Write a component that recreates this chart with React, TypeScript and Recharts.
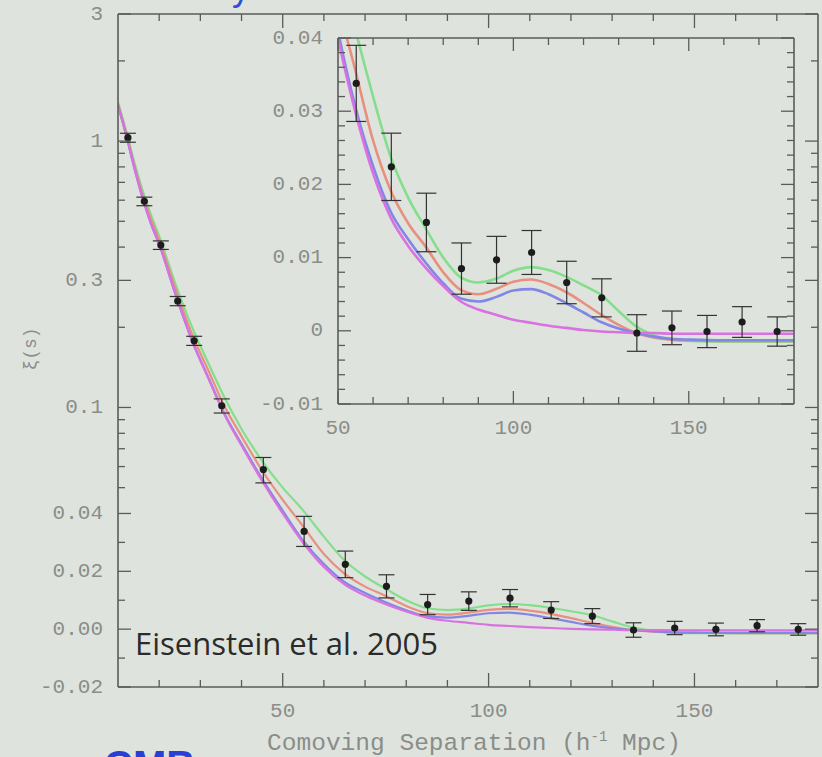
import React from 'react';
import { ComposedChart, Line, Scatter, XAxis, YAxis, ErrorBar } from 'recharts';

const BG = '#dfe3dd';
const AXIS = '#5a5c5a';
const TICK_TEXT = '#8a8d89';
const MONO = '"Liberation Mono", "DejaVu Sans Mono", monospace';

// model curves xi(s)
const rGrid = [10, 12, 14, 16, 18, 20, 24, 28, 32, 36, 40, 45, 50, 55, 60, 65, 70, 75, 80, 85, 90, 95, 100, 105, 110, 115, 120, 125, 130, 135, 140, 145, 150, 160, 170, 180];
const xiGreen = [1.40, 1.09, 0.83, 0.65, 0.53, 0.44, 0.29, 0.200, 0.146, 0.108, 0.083, 0.063, 0.050, 0.041, 0.032, 0.0238, 0.0182, 0.0140, 0.0100, 0.0073, 0.0066, 0.0071, 0.0082, 0.0087, 0.0083, 0.0074, 0.0062, 0.0049, 0.0027, 0.0006, -0.0006, -0.0012, -0.0014, -0.0015, -0.0015, -0.0015];
const xiRed = [1.38, 1.07, 0.81, 0.63, 0.51, 0.425, 0.278, 0.188, 0.137, 0.100, 0.078, 0.058, 0.045, 0.0355, 0.026, 0.0192, 0.0147, 0.0115, 0.0080, 0.0056, 0.0050, 0.0057, 0.0067, 0.0070, 0.0064, 0.0053, 0.0038, 0.0022, 0.0008, -0.0003, -0.0009, -0.0012, -0.0013, -0.0014, -0.0014, -0.0014];
const xiBlue = [1.36, 1.05, 0.79, 0.61, 0.49, 0.41, 0.265, 0.178, 0.129, 0.094, 0.073, 0.054, 0.041, 0.0305, 0.0225, 0.0163, 0.0125, 0.0093, 0.0065, 0.0044, 0.0040, 0.0046, 0.0055, 0.0057, 0.0050, 0.0038, 0.0025, 0.0012, 0.0003, -0.0003, -0.0008, -0.0011, -0.0012, -0.0013, -0.0013, -0.0013];
const xiMagenta = [1.36, 1.05, 0.79, 0.61, 0.49, 0.41, 0.265, 0.178, 0.128, 0.093, 0.072, 0.053, 0.040, 0.0298, 0.0215, 0.0155, 0.0116, 0.0086, 0.0061, 0.0040, 0.0029, 0.0022, 0.0015, 0.0011, 0.0007, 0.0004, 0.0001, -0.0001, -0.0002, -0.0003, -0.0003, -0.0004, -0.0004, -0.0004, -0.0004, -0.0004];

// SDSS LRG data points
const pointR = [12.4, 16.4, 20.4, 24.5, 28.5, 35.2, 45.3, 55.2, 65.2, 75.2, 85.2, 95.2, 105.2, 115.2, 125.2, 135.2, 145.2, 155.2, 165.2, 175.2];
const pointXi = [1.03, 0.594, 0.407, 0.251, 0.178, 0.1015, 0.0585, 0.0338, 0.0224, 0.0148, 0.0085, 0.0097, 0.0107, 0.0066, 0.0045, -0.0003, 0.0004, -0.0001, 0.0012, -0.0001];
const pointErr = [0.04, 0.022, 0.015, 0.010, 0.007, 0.0062, 0.0064, 0.0052, 0.0046, 0.0040, 0.0035, 0.0032, 0.0030, 0.0029, 0.0026, 0.0025, 0.0023, 0.0022, 0.0021, 0.0020];

// main panel ticks
const mainXMajor = [50, 100, 150];
const mainXLabels = ['50', '100', '150'];
const mainXMinor = [20, 30, 40, 60, 70, 80, 90, 110, 120, 130, 140, 160, 170];
const mainYMajor = [-0.02, 0, 0.02, 0.04, 0.1, 0.3, 1, 3];
const mainYLabels = ['-0.02', '0.00', '0.02', '0.04', '0.1', '0.3', '1', '3'];
const mainYMinor = [-0.01, 0.01, 0.03, 0.05, 0.06, 0.07, 0.08, 0.09, 0.2, 0.4, 0.5, 0.6, 0.7, 0.8, 0.9, 2];

// inset ticks
const insetXMajor = [50, 100, 150];
const insetXLabels = ['50', '100', '150'];
const insetXMinor = [60, 70, 80, 90, 110, 120, 130, 140, 160, 170];
const insetYMajor = [-0.01, 0, 0.01, 0.02, 0.03, 0.04];
const insetYLabels = ['-0.01', '0', '0.01', '0.02', '0.03', '0.04'];
const insetYMinor = [-0.008, -0.006, -0.004, -0.002, 0.002, 0.004, 0.006, 0.008, 0.012, 0.014, 0.016, 0.018, 0.022, 0.024, 0.026, 0.028, 0.032, 0.034, 0.036, 0.038];

const COLORS = { green: '#84de8c', red: '#e8907f', blue: '#8286e4', magenta: '#d872e0' };

// y-axis of main panel: linear below 0.04, logarithmic above
const LIN = 0.04;
const fwd = (v: number) => (v <= LIN ? v / LIN : 1 + Math.log(v / LIN));

const mainCurves = rGrid.map((r, i) => ({
  r,
  green: fwd(xiGreen[i]),
  red: fwd(xiRed[i]),
  blue: fwd(xiBlue[i]),
  magenta: fwd(xiMagenta[i]),
}));
const mainPoints = pointR.map((r, i) => {
  const y = pointXi[i];
  const e = pointErr[i];
  return { r, t: fwd(y), err: [fwd(y) - fwd(y - e), fwd(y + e) - fwd(y)] };
});

const insetCurves = rGrid
  .map((r, i) => ({ r, green: xiGreen[i], red: xiRed[i], blue: xiBlue[i], magenta: xiMagenta[i] }))
  .filter((d) => d.r >= 40);
const insetPoints = pointR
  .map((r, i) => ({ r, xi: pointXi[i], err: pointErr[i] }))
  .filter((d) => d.r >= 50);

type Side = 'left' | 'right' | 'top' | 'bottom';

function tickRenderer(side: Side, majors: number[], labels: string[] | null, majorLen: number, minorLen: number) {
  return (props: any) => {
    const { x, y, payload } = props;
    const idx = majors.findIndex((m) => Math.abs(m - payload.value) < 1e-9);
    const len = idx >= 0 ? majorLen : minorLen;
    let line = null;
    let label = null;
    const txt = { fill: TICK_TEXT, fontFamily: MONO, fontSize: 21, stroke: 'none' };
    if (side === 'left') {
      line = <line x1={x} y1={y} x2={x + len} y2={y} />;
      if (labels && idx >= 0)
        label = <text x={x - 15} y={y} textAnchor="end" dominantBaseline="central" {...txt}>{labels[idx]}</text>;
    } else if (side === 'right') {
      line = <line x1={x} y1={y} x2={x - len} y2={y} />;
    } else if (side === 'top') {
      line = <line x1={x} y1={y} x2={x} y2={y + len} />;
    } else {
      line = <line x1={x} y1={y} x2={x} y2={y - len} />;
      if (labels && idx >= 0)
        label = <text x={x} y={y + 24} textAnchor="middle" dominantBaseline="central" {...txt}>{labels[idx]}</text>;
    }
    return (
      <g>
        <g stroke={AXIS} strokeWidth={1.3}>{line}</g>
        {label}
      </g>
    );
  };
}

const dot = (p: any) => <circle cx={p.cx} cy={p.cy} r={3.6} fill="#1c1c1c" />;

const axisLine = { stroke: AXIS, strokeWidth: 1.6 };

function MainPanel() {
  const xTicks = [...mainXMajor, ...mainXMinor].sort((a, b) => a - b);
  const yMajT = mainYMajor.map(fwd);
  const yTicks = [...mainYMajor, ...mainYMinor].map(fwd).sort((a, b) => a - b);
  const yDomain = [fwd(-0.02), fwd(3)];
  return (
    <ComposedChart width={822} height={757} margin={{ top: 13, right: 3, bottom: 40, left: 0 }}>
      <XAxis dataKey="r" type="number" domain={[10, 180]} allowDataOverflow ticks={xTicks} interval={0}
        height={30} tickSize={0} tickMargin={0} tickLine={false} axisLine={axisLine}
        tick={tickRenderer('bottom', mainXMajor, mainXLabels, 14, 7)} />
      <XAxis xAxisId="top" dataKey="r" orientation="top" type="number" domain={[10, 180]} allowDataOverflow ticks={xTicks} interval={0}
        height={1} tickSize={0} tickMargin={0} tickLine={false} axisLine={axisLine}
        tick={tickRenderer('top', mainXMajor, null, 14, 7)} />
      <YAxis type="number" domain={yDomain} allowDataOverflow ticks={yTicks} interval={0}
        width={118} tickSize={0} tickMargin={0} tickLine={false} axisLine={axisLine}
        tick={tickRenderer('left', yMajT, mainYLabels, 13, 7)} />
      <YAxis yAxisId="right" orientation="right" type="number" domain={yDomain} allowDataOverflow ticks={yTicks} interval={0}
        width={1} tickSize={0} tickMargin={0} tickLine={false} axisLine={axisLine}
        tick={tickRenderer('right', yMajT, null, 13, 7)} />
      <Line data={mainCurves} dataKey="green" type="monotone" stroke={COLORS.green} strokeWidth={2.2} dot={false} isAnimationActive={false} />
      <Line data={mainCurves} dataKey="red" type="monotone" stroke={COLORS.red} strokeWidth={2.2} dot={false} isAnimationActive={false} />
      <Line data={mainCurves} dataKey="blue" xAxisId="top" yAxisId="right" type="monotone" stroke={COLORS.blue} strokeWidth={2.2} dot={false} isAnimationActive={false} />
      <Line data={mainCurves} dataKey="magenta" xAxisId="top" yAxisId="right" type="monotone" stroke={COLORS.magenta} strokeWidth={2.2} dot={false} isAnimationActive={false} />
      <Scatter data={mainPoints} dataKey="t" shape={dot} isAnimationActive={false}>
        <ErrorBar dataKey="err" direction="y" width={8} stroke="#333" strokeWidth={1.2} isAnimationActive={false} />
      </Scatter>
    </ComposedChart>
  );
}

function InsetPanel() {
  const xTicks = [...insetXMajor, ...insetXMinor].sort((a, b) => a - b);
  const yTicks = [...insetYMajor, ...insetYMinor].sort((a, b) => a - b);
  return (
    <ComposedChart width={540} height={420} margin={{ top: 12, right: 5, bottom: 6, left: 0 }}>
      <XAxis dataKey="r" type="number" domain={[50, 180]} allowDataOverflow ticks={xTicks} interval={0}
        height={35} tickSize={0} tickMargin={0} tickLine={false} axisLine={axisLine}
        tick={tickRenderer('bottom', insetXMajor, insetXLabels, 13, 7)} />
      <XAxis xAxisId="top" dataKey="r" orientation="top" type="number" domain={[50, 180]} allowDataOverflow ticks={xTicks} interval={0}
        height={1} tickSize={0} tickMargin={0} tickLine={false} axisLine={axisLine}
        tick={tickRenderer('top', insetXMajor, null, 13, 7)} />
      <YAxis type="number" domain={[-0.01, 0.04]} allowDataOverflow ticks={yTicks} interval={0}
        width={78} tickSize={0} tickMargin={0} tickLine={false} axisLine={axisLine}
        tick={tickRenderer('left', insetYMajor, insetYLabels, 13, 7)} />
      <YAxis yAxisId="right" orientation="right" type="number" domain={[-0.01, 0.04]} allowDataOverflow ticks={yTicks} interval={0}
        width={1} tickSize={0} tickMargin={0} tickLine={false} axisLine={axisLine}
        tick={tickRenderer('right', insetYMajor, null, 13, 7)} />
      <Line data={insetCurves} dataKey="green" type="monotone" stroke={COLORS.green} strokeWidth={2.6} dot={false} isAnimationActive={false} />
      <Line data={insetCurves} dataKey="red" type="monotone" stroke={COLORS.red} strokeWidth={2.6} dot={false} isAnimationActive={false} />
      <Line data={insetCurves} dataKey="blue" xAxisId="top" yAxisId="right" type="monotone" stroke={COLORS.blue} strokeWidth={2.6} dot={false} isAnimationActive={false} />
      <Line data={insetCurves} dataKey="magenta" xAxisId="top" yAxisId="right" type="monotone" stroke={COLORS.magenta} strokeWidth={2.6} dot={false} isAnimationActive={false} />
      <Scatter data={insetPoints} dataKey="xi" shape={dot} isAnimationActive={false}>
        <ErrorBar dataKey="err" direction="y" width={10} stroke="#333" strokeWidth={1.2} isAnimationActive={false} />
      </Scatter>
    </ComposedChart>
  );
}

export default function App() {
  return (
    <div style={{ position: 'absolute', left: 0, top: 0, width: 822, height: 757, background: BG, overflow: 'hidden' }}>
      <div style={{ position: 'absolute', left: 0, top: 0 }}>
        <MainPanel />
      </div>
      <div style={{ position: 'absolute', left: 260, top: 25 }}>
        <InsetPanel />
      </div>
      {/* y axis title */}
      <div style={{ position: 'absolute', left: 31, top: 349, transform: 'translate(-50%, -50%) rotate(-90deg)', fontFamily: MONO, fontSize: 18, color: TICK_TEXT, whiteSpace: 'nowrap' }}>
        ξ(s)
      </div>
      {/* x axis title */}
      <div style={{ position: 'absolute', left: 474, top: 745, transform: 'translate(-50%, -50%)', fontFamily: MONO, fontSize: 24.5, color: TICK_TEXT, whiteSpace: 'nowrap', lineHeight: '26px' }}>
        Comoving Separation (h<span style={{ fontSize: 14, position: 'relative', top: -9 }}>-1</span> Mpc)
      </div>
      <div style={{ position: 'absolute', left: 135, top: 628, fontFamily: '"Open Sans", sans-serif', fontWeight: 500, fontSize: 31, lineHeight: '31px', color: '#2b2b2b', whiteSpace: 'nowrap' }}>
        Eisenstein et al. 2005
      </div>
      {/* slide text cut off at the edges */}
      <div style={{ position: 'absolute', left: 232, top: -30, fontFamily: '"Liberation Sans", sans-serif', fontSize: 36, lineHeight: '36px', color: '#2f4fd6' }}>
        y
      </div>
      <div style={{ position: 'absolute', left: 104, top: 745, fontFamily: '"Liberation Sans", sans-serif', fontWeight: 'bold', fontSize: 40, lineHeight: '40px', color: '#2a3fd4' }}>
        CMB
      </div>
    </div>
  );
}
